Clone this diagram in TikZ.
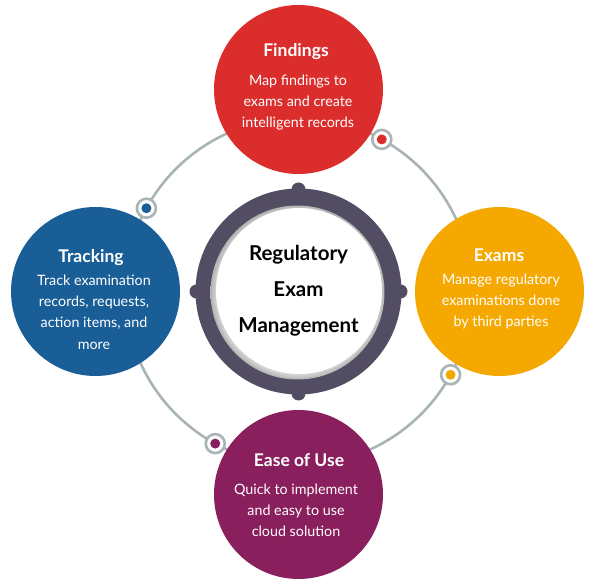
\documentclass[tikz,border=0pt]{standalone}
\usepackage{fontspec}
\setmainfont{Lato}
\usetikzlibrary{calc}
\definecolor{findred}{HTML}{DC2D2D}
\definecolor{examorange}{HTML}{F5A800}
\definecolor{trackblue}{HTML}{195E96}
\definecolor{easepurple}{HTML}{8A1F5E}
\definecolor{ringdark}{HTML}{524D63}
\definecolor{orbitgrey}{HTML}{A8B4B5}
\pgfdeclareradialshading{innershadow}{\pgfpoint{0bp}{0bp}}{color(0bp)=(white); color(21.5bp)=(white); color(25bp)=(black!30); color(50bp)=(black!30)}
\tikzset{
  bubble/.style={circle, minimum size=169pt, inner sep=0pt, draw=none},
  bubbletitle/.style={anchor=base, inner sep=0pt, text=white, font=\fontsize{17.5}{20}\selectfont\bfseries},
  bubblebody/.style={anchor=north, inner sep=0pt, text=white, align=center, font=\fontsize{14.3}{21.3}\selectfont},
  marker/.style={circle, minimum size=19pt, inner sep=0pt, fill=white, draw=orbitgrey, line width=2.6pt},
  markerdot/.style={circle, minimum size=10pt, inner sep=0pt},
  knob/.style={circle, minimum size=14pt, inner sep=0pt, fill=ringdark},
  centertext/.style={anchor=north, inner sep=0pt, align=center, text=black, font=\fontsize{20.5}{36}\selectfont\bfseries}
}
\begin{document}
\begin{tikzpicture}[x=1pt,y=1pt]
\useasboundingbox (0,0) rectangle (590,584);
\fill[white] (0,0) rectangle (590,584);
\coordinate (C) at (298.5,292.5);
% orbit
\draw[orbitgrey, line width=2.6pt] (C) circle[radius=173.4];
% bubbles
\node[bubble, fill=findred] (find) at ($(C)+(90:202)$) {};
\node[bubble, fill=examorange] (exam) at ($(C)+(0:201)$) {};
\node[bubble, fill=trackblue] (track) at ($(C)+(180:203)$) {};
\node[bubble, fill=easepurple] (ease) at ($(C)+(270:203)$) {};
% markers
\node[marker] (mfind) at ($(C)+(61.3:173.4)$) {};
\node[markerdot, fill=findred] (dfind) at (mfind) {};
\node[marker] (mtrack) at ($(C)+(151.3:173.4)$) {};
\node[markerdot, fill=trackblue] (dtrack) at (mtrack) {};
\node[marker] (mexam) at ($(C)+(331.3:173.4)$) {};
\node[markerdot, fill=examorange] (dexam) at (mexam) {};
\node[marker] (mease) at ($(C)+(241.3:173.4)$) {};
\node[markerdot, fill=easepurple] (dease) at (mease) {};
% central ring
\node[knob] (k1) at ($(C)+(90:102)$) {};
\node[knob] (k2) at ($(C)+(0:102)$) {};
\node[knob] (k3) at ($(C)+(180:102)$) {};
\node[knob] (k4) at ($(C)+(270:102)$) {};
\node[circle, minimum size=206pt, inner sep=0pt, fill=ringdark] (ring) at (C) {};
\node[circle, minimum size=174pt, inner sep=0pt, shading=innershadow] (core) at ($(C)+(-1,-1)$) {};
\node[circle, minimum size=166pt, inner sep=0pt, fill=white] (corew) at ($(C)+(0.5,0.5)$) {};
\node[centertext] (ctext) at (298.5,343.3) {\rule{0pt}{20pt}Regulatory\\Exam\\Management};
% texts
\node[bubbletitle] (tfind) at (296,527) {Findings};
\node[bubblebody] (bfind) at (298,511) {\rule{0pt}{12pt}Map findings to\\exams and create\\intelligent records};
\node[bubbletitle] (ttrack) at (91,321) {Tracking};
\node[bubblebody] (btrack) at (94,311) {\rule{0pt}{12pt}Track examination\\records, requests,\\action items, and\\more};
\node[bubbletitle] (texam) at (499,322) {Exams};
\node[bubblebody] (bexam) at (501,312) {\rule{0pt}{12pt}Manage regulatory\\examinations done\\by third parties};
\node[bubbletitle] (tease) at (299,117) {Ease of Use};
\node[bubblebody] (bease) at (296,102) {\rule{0pt}{12pt}Quick to implement\\and easy to use\\cloud solution};
\end{tikzpicture}
\end{document}
